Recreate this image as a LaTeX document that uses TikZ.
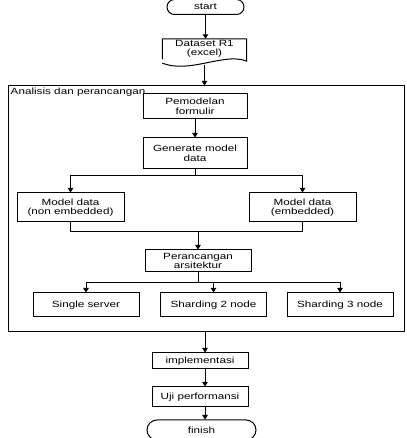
\documentclass[tikz,border=0pt]{standalone}
\usepackage{fontspec}
\setmainfont{Liberation Sans}[FakeStretch=1.3]
\usepackage{tikz}
\usetikzlibrary{arrows.meta, positioning}

\tikzset{
    box/.style={draw, line width=1pt, minimum width=106pt, minimum height=24pt, align=center, inner sep=1pt},
    term/.style={draw, line width=1pt, rounded corners=7.5pt, minimum width=77pt, minimum height=15pt, inner sep=1pt},
    arr/.style={line width=1pt, -{Triangle[length=4.5pt,width=5.5pt]}},
    line/.style={line width=1pt}
}

\begin{document}
\begin{tikzpicture}[x=1pt, y=1pt, font=\fontsize{9}{9.5}\selectfont]
    \useasboundingbox (0,0) rectangle (406,438);

    % Start and input data
    \node[term] (start) at (205.5,431) {start};
    \node[inner sep=1pt, minimum width=84pt, minimum height=20pt, align=center] (data) at (204.5,389) {Dataset R1\\(excel)};
    \draw[line] (data.south west) -- (data.north west) -- (data.north east) -- ([yshift=-2pt]data.south east)
        .. controls (225,386) and (190,364) .. ([yshift=-4pt]data.south west);
    \coordinate (databot) at (204.5,373);
    \draw[arr] (start.south) -- (start.south |- data.north);

    % Analysis block
    \node[draw, line width=1pt, minimum width=396pt, minimum height=246pt] (analisis) at (206,229) {};
    \node[anchor=north west, inner sep=1pt] (judul) at ([xshift=2pt,yshift=-1pt]analisis.north west) {Analisis dan perancangan};
    \draw[arr] (databot) -- (databot |- analisis.north);

    \node[box, minimum width=104pt, minimum height=25pt] (pemodelan) at (195,331.5) {Pemodelan\\formulir};
    \node[box, minimum width=104pt, minimum height=31pt] (generate) at (195,284.5) {Generate model\\data};
    \draw[arr] (pemodelan) -- (generate);

    \node[box, minimum width=107pt, minimum height=29pt] (nonemb) at (70.5,230.5) {Model data\\(non embedded)};
    \node[box, minimum width=107pt, minimum height=29pt] (emb) at (302.5,230.5) {Model data\\(embedded)};
    \coordinate (split1) at (195,262);
    \draw[line] (generate) -- (split1);
    \draw[arr] (split1) -| (nonemb);
    \draw[arr] (split1) -| (emb);

    \node[box, minimum height=22pt] (rancang) at (198,177) {Perancangan\\arsitektur};
    \coordinate (merge1) at (198,206);
    \draw[line] (nonemb) |- (merge1);
    \draw[line] (emb) |- (merge1);
    \draw[arr] (merge1) -- (rancang);

    \node[box] (single) at (86,133) {Single server};
    \node[box] (shard2) at (213.5,133) {Sharding 2 node};
    \node[box] (shard3) at (340,133) {Sharding 3 node};
    \coordinate (split2) at (198,155);
    \draw[line] (rancang) -- (split2);
    \draw[arr] (split2) -| (single);
    \draw[arr] (split2) -| (shard2);
    \draw[arr] (split2) -| (shard3);

    % Implementation and testing
    \coordinate (col) at (205,0);
    \node[box, minimum width=96pt, minimum height=16pt] (impl) at (200,77) {implementasi};
    \node[box, minimum width=96pt, minimum height=20pt] (uji) at (200,41) {Uji performansi};
    \node[term, rounded corners=10pt, minimum width=109pt, minimum height=20pt] (finish) at (201.5,8) {finish};
    \draw[arr] (analisis.south -| col) -- (impl.north -| col);
    \draw[arr] (impl.south -| col) -- (uji.north -| col);
    \draw[arr] (uji.south -| col) -- (finish.north -| col);
\end{tikzpicture}
\end{document}
